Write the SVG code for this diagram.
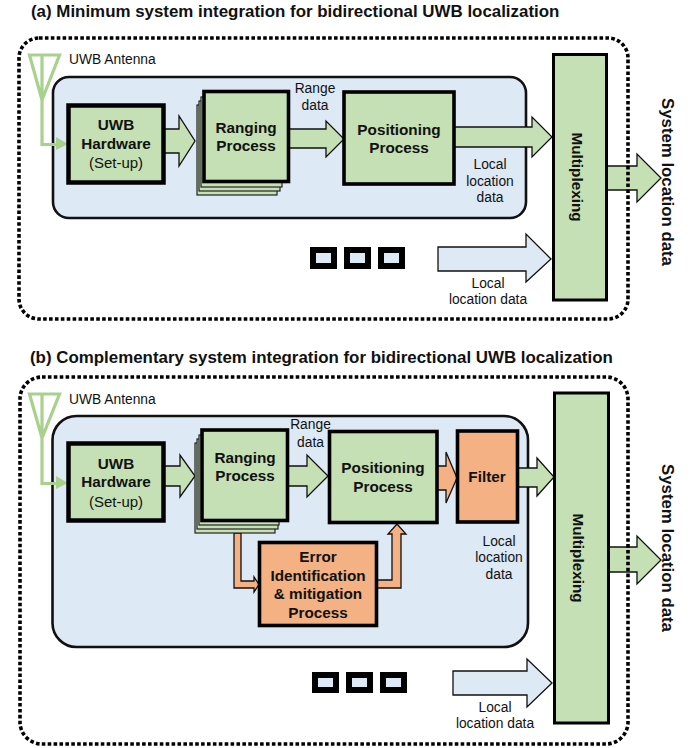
<svg xmlns="http://www.w3.org/2000/svg" width="699" height="748" viewBox="0 0 699 748">
<style>
text{font-family:"Liberation Sans",Arial,sans-serif;fill:#111;text-anchor:middle}
.title{font-size:16.9px;font-weight:bold;text-anchor:start}
.b{font-size:15.3px;font-weight:bold}
.sys{font-size:16.8px;font-weight:bold}
.r{font-size:13.8px}
.s{font-size:15px}
.frame{fill:none;stroke:#000;stroke-width:3.6;stroke-dasharray:3.6 2.3}
.panel{fill:#dde9f5;stroke:#111;stroke-width:2.6}
.g{fill:#c5e0b4;stroke:#000;stroke-width:3.6}
.gt{fill:#c5e0b4;stroke:#000;stroke-width:4.5}
.o{fill:#f4b183;stroke:#000;stroke-width:3.6}
.st{fill:#c5e0b4;stroke:#222;stroke-width:1.2}
.ag{fill:#c5e0b4;stroke:#111;stroke-width:1.3}
.ao{fill:#f4b183;stroke:#111;stroke-width:1.3}
.ab{fill:#dde9f5;stroke:#111;stroke-width:1.3}
.ant{fill:none;stroke:#a9d18e;stroke-width:3.2}
.anth{fill:#a9d18e}
.dot{fill:#dde9f5;stroke:#000;stroke-width:6}
</style>
<text class="title" x="31" y="17">(a) Minimum system integration for bidirectional UWB localization</text>
<text class="title" x="30" y="363">(b) Complementary system integration for bidirectional UWB localization</text>

<g id="panel-a"><rect class="panel" x="53" y="77" width="473" height="141" rx="16"/></g>
<g id="panel-b"><rect class="panel" x="52.500" y="416" width="475.500" height="231" rx="24"/></g>

<g id="connectors">
<polygon class="ag" points="164,129 179,129 179,116 195,141 179,166 179,153 164,153"/>
<polygon class="ag" points="289,129 326,129 326,121 344,139 326,157 326,148 289,148"/>
<polygon class="ag" points="454,127 532,127 532,117 552,137 532,157 532,147 454,147"/>
<polygon class="ag" points="607,166 637,166 637,154 661,178 637,202 637,190 607,190"/>
<polygon class="ab" points="438,247 526,247 526,234 551,259 526,282 526,271 438,271"/>
<polygon class="ag" points="164,466 180,466 180,455 195,476 180,497 180,486 164,486"/>
<polygon class="ag" points="288,466 307,466 307,455 328,476 307,497 307,486 288,486"/>
<polygon class="ao" points="437,466 446,466 446,452 457,478 446,503 446,490 437,490"/>
<polygon class="ag" points="518,468 537,468 537,458 554,477 537,496 537,487 518,487"/>
<polygon class="ag" points="609,547 637,547 637,536 661,560 637,584 637,572 609,572"/>
<polygon class="ab" points="453,671 527,671 527,659 552,683 527,707 527,695 453,695"/>
<polygon class="ao" points="234,533 241,533 241,581 254,581 254,577 259,584.500 254,592 254,588 234,588"/>
<polygon class="ao" points="377,580 392,580 392,534 388,534 397,524 406,534 401,534 401,588 377,588"/>
</g>

<g id="antenna-a">
<path class="ant" d="M42,55H29.500L42,100L59.500,55H42V100V144.500H58"/>
<polygon class="anth" points="56,137 68,144 56,150"/>
<text class="r" x="69" y="64" style="text-anchor:start">UWB Antenna</text>
</g>
<g id="uwb-hardware-a">
<rect class="gt" x="68.500" y="105.500" width="95" height="77"/>
<text class="b" x="116" y="130">UWB</text><text class="b" x="116" y="149">Hardware</text><text class="s" x="116" y="168">(Set-up)</text>
</g>
<g id="ranging-a">
<rect class="st" x="197" y="105" width="80" height="90"/>
<rect class="st" x="199" y="101" width="81" height="90"/>
<rect class="st" x="201" y="97" width="81" height="90"/>
<rect class="g" x="204" y="91.500" width="84.500" height="90"/>
<text class="b" x="246" y="133">Ranging</text><text class="b" x="246" y="151">Process</text>
</g>
<g id="positioning-a">
<rect class="g" x="344" y="92" width="110" height="92"/>
<text class="b" x="399" y="135">Positioning</text><text class="b" x="399" y="153">Process</text>
</g>
<g id="multiplexing-a">
<rect class="g" x="553.500" y="54.500" width="53" height="245.500" style="stroke-width:3"/>
<text class="b" transform="translate(572 177) rotate(90)">Multiplexing</text>
</g>
<g id="dots-a">
<rect class="dot" x="313" y="250" width="21" height="16"/>
<rect class="dot" x="347" y="250" width="21" height="16"/>
<rect class="dot" x="381" y="250" width="21" height="16"/>
</g>
<g id="labels-a">
<text class="r" x="315" y="93">Range</text><text class="r" x="315" y="110">data</text>
<text class="r" x="490" y="169">Local</text><text class="r" x="490" y="186">location</text><text class="r" x="490" y="202">data</text>
<text class="r" x="488" y="288">Local</text><text class="r" x="488" y="304">location data</text>
<text class="sys" transform="translate(662 182) rotate(90)">System location data</text>
</g>
<g id="frame-a"><rect class="frame" x="19" y="38" width="609" height="281" rx="20"/></g>

<g id="antenna-b">
<path class="ant" d="M42,394H29.500L42,438L59.500,394H42V438V483.500H58"/>
<polygon class="anth" points="56,476 68,483 56,489"/>
<text class="r" x="69" y="404" style="text-anchor:start">UWB Antenna</text>
</g>
<g id="uwb-hardware-b">
<rect class="gt" x="68.500" y="443.500" width="95" height="77"/>
<text class="b" x="116" y="469">UWB</text><text class="b" x="116" y="487">Hardware</text><text class="s" x="116" y="507">(Set-up)</text>
</g>
<g id="ranging-b">
<rect class="st" x="195" y="443" width="80" height="90"/>
<rect class="st" x="197" y="439" width="81" height="90"/>
<rect class="st" x="199" y="435" width="80" height="90"/>
<rect class="g" x="202" y="430" width="85.500" height="90.500"/>
<text class="b" x="245" y="463">Ranging</text><text class="b" x="245" y="481">Process</text>
</g>
<g id="positioning-b">
<rect class="g" x="329.500" y="431.500" width="107.500" height="91"/>
<text class="b" x="383" y="473">Positioning</text><text class="b" x="383" y="492">Process</text>
</g>
<g id="filter-b">
<rect class="o" x="457.500" y="431" width="60" height="91"/>
<text class="b" x="487" y="482">Filter</text>
</g>
<g id="error-b">
<rect class="o" x="259.500" y="542.500" width="117" height="83"/>
<text class="b" x="318" y="562">Error</text><text class="b" x="318" y="581">Identification</text><text class="b" x="318" y="599">&amp; mitigation</text><text class="b" x="318" y="618">Process</text>
</g>
<g id="multiplexing-b">
<rect class="g" x="554.500" y="393" width="54" height="330" style="stroke-width:3"/>
<text class="b" transform="translate(573 558) rotate(90)">Multiplexing</text>
</g>
<g id="dots-b">
<rect class="dot" x="315" y="675" width="21" height="15"/>
<rect class="dot" x="349" y="675" width="21" height="15"/>
<rect class="dot" x="383" y="675" width="21" height="15"/>
</g>
<g id="labels-b">
<text class="r" x="310.500" y="429">Range</text><text class="r" x="310.500" y="447">data</text>
<text class="r" x="499" y="546">Local</text><text class="r" x="499" y="562">location</text><text class="r" x="499" y="579">data</text>
<text class="r" x="495" y="712">Local</text><text class="r" x="495" y="728">location data</text>
<text class="sys" transform="translate(662 548) rotate(90)">System location data</text>
</g>
<g id="frame-b"><rect class="frame" x="20" y="377" width="608" height="367" rx="22"/></g>
</svg>
